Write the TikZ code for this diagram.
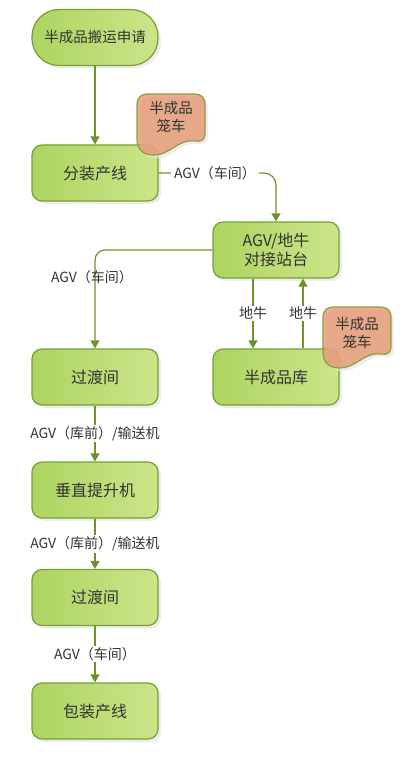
\documentclass[tikz,border=0pt]{standalone}
\usepackage{fontspec}
\setmainfont{Noto Sans CJK SC}
\usetikzlibrary{arrows.meta,shadows}
\definecolor{txt}{HTML}{333333}
\definecolor{lnc}{HTML}{6F9228}
\definecolor{bdr}{HTML}{78A033}
\definecolor{gL}{HTML}{ADD461}
\definecolor{gR}{HTML}{CBE589}
\definecolor{cageC}{HTML}{E48E62}
\definecolor{cageB}{HTML}{8C9E3C}
\begin{document}
\begin{tikzpicture}[x=1pt,y=-1pt,
  box/.style={draw=bdr, line width=1.2pt, rounded corners=10pt, left color=gL, right color=gR,
     minimum width=126pt, minimum height=56pt, inner sep=2pt, align=center, text=txt,
     font=\fontsize{16}{19.5}\selectfont,
     general shadow={shadow xshift=3pt, shadow yshift=-3pt, fill=black!10, opacity=0.7}},
  term/.style={box, rounded corners=27pt, font=\fontsize{14.5}{17}\selectfont},
  arr/.style={draw=lnc, line width=1.2pt, -{Triangle[length=8pt,width=9pt]}},
  lbl/.style={font=\fontsize{14}{16}\selectfont, text=txt, inner sep=1.5pt},
  lblw/.style={lbl, fill=white},
  cage/.style={fill=cageC, fill opacity=0.72, draw=cageB, line width=1.2pt},
  cageshadow/.style={fill=black!10, opacity=0.7},
  cagetext/.style={font=\fontsize{14.5}{18}\selectfont, text=txt, align=center}
]
\useasboundingbox (0,0) rectangle (419,762);

\node[term] (n1) at (95,37.5) {半成品搬运申请};
\node[box] (n2) at (95,173) {分装产线};
\node[box] (n3) at (276,250) {AGV/地牛\\对接站台};
\node[box] (n4) at (95,377) {过渡间};
\node[box] (n5) at (276,377) {半成品库};
\node[box] (n6) at (95,490) {垂直提升机};
\node[box] (n7) at (95,597.5) {过渡间};
\node[box] (n8) at (95,711) {包装产线};

\draw[arr] (n1) -- (n2);
\draw[arr, rounded corners=12pt] (n2.east) -| node[lblw, pos=0.24, inner xsep=3pt] {AGV（车间）} (n3.north);
\draw[arr, rounded corners=10pt] (n3.west) -| node[lbl, pos=0.64, xshift=-3pt] {AGV（车间）} (n4.north);
\draw[arr] ([xshift=-23pt]n3.south) -- node[lblw] {地牛} ([xshift=-23pt]n5.north);
\draw[arr] ([xshift=27pt]n5.north) -- node[lblw] {地牛} ([xshift=27pt]n3.south);
\draw[arr] (n4) -- node[lblw] {AGV（库前）/输送机} (n6);
\draw[arr] (n6) -- node[lblw] {AGV（库前）/输送机} (n7);
\draw[arr] (n7) -- node[lblw] {AGV（车间）} (n8);

% cages
\foreach \cx/\cy in {137/94, 323/307} {
  \begin{scope}[shift={(\cx,\cy)}]
    \path[cageshadow, shift={(3,3)}] (0,10) .. controls (0,4) and (4,0) .. (10,0) -- (58,0) .. controls (64,0) and (68,4) .. (68,10) -- (68,40) .. controls (68,46) and (64,48) .. (58,47) .. controls (40,45) and (34,61) .. (16,61) .. controls (6,61) and (0,55) .. (0,46) -- cycle;
    \path[cage] (0,10) .. controls (0,4) and (4,0) .. (10,0) -- (58,0) .. controls (64,0) and (68,4) .. (68,10) -- (68,40) .. controls (68,46) and (64,48) .. (58,47) .. controls (40,45) and (34,61) .. (16,61) .. controls (6,61) and (0,55) .. (0,46) -- cycle;
  \end{scope}
}
\node[cagetext] (c1) at (171,117) {半成品\\笼车};
\node[cagetext] (c2) at (357,333) {半成品\\笼车};
\end{tikzpicture}
\end{document}
